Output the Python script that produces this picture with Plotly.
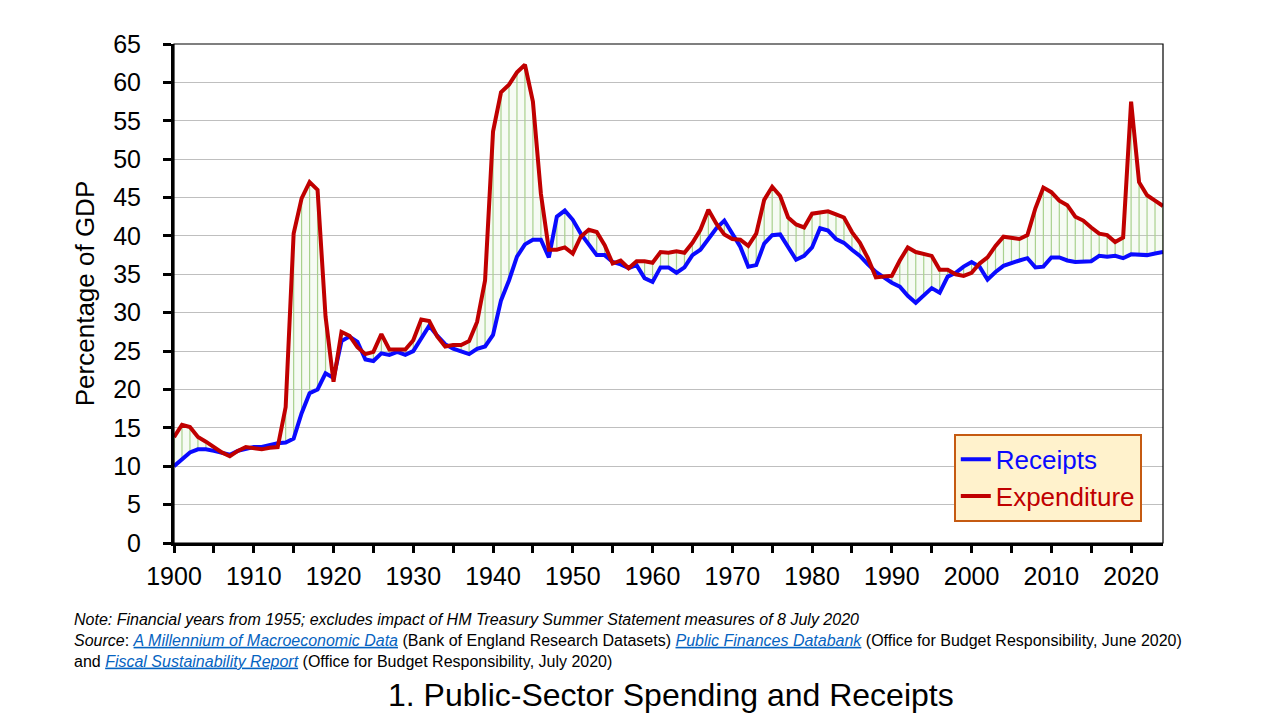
import plotly.graph_objects as go

years = list(range(1900, 2025))

receipts = [
    10.0, 10.9, 11.8, 12.2, 12.2, 12.0, 11.7, 11.5, 12.0, 12.3,   # 1900-1909
    12.5, 12.5, 12.8, 13.0, 13.1, 13.6, 16.9, 19.5, 20.0, 22.1,   # 1910-1919
    21.5, 26.3, 26.9, 26.2, 23.9, 23.7, 24.7, 24.5, 24.9, 24.5,   # 1920-1929
    25.0, 26.6, 28.3, 27.0, 25.9, 25.3, 24.9, 24.6, 25.3, 25.6,   # 1930-1939
    27.1, 31.6, 34.2, 37.3, 38.9, 39.5, 39.5, 37.2, 42.5, 43.3,   # 1940-1949
    42.1, 40.3, 38.9, 37.5, 37.5, 36.6, 36.3, 35.8, 36.2, 34.5,   # 1950-1959
    34.0, 35.9, 35.9, 35.2, 35.9, 37.5, 38.2, 39.7, 41.0, 42.0,   # 1960-1969
    40.3, 38.6, 36.0, 36.2, 39.0, 40.1, 40.2, 38.5, 36.9, 37.4,   # 1970-1979
    38.5, 41.0, 40.7, 39.6, 39.1, 38.2, 37.4, 36.3, 35.3, 34.6,   # 1980-1989
    33.9, 33.4, 32.2, 31.3, 32.2, 33.2, 32.6, 34.7, 35.2, 36.0,   # 1990-1999
    36.6, 36.0, 34.3, 35.3, 36.1, 36.5, 36.8, 37.1, 35.9, 36.0,   # 2000-2009
    37.2, 37.2, 36.8, 36.6, 36.7, 36.7, 37.4, 37.3, 37.4, 37.1,   # 2010-2019
    37.6, 37.5, 37.5, 37.7, 37.9,                                 # 2020-2024
]

expenditure = [
    13.8, 15.4, 15.1, 13.8, 13.2, 12.5, 11.8, 11.3, 12.0, 12.5,   # 1900-1909
    12.3, 12.2, 12.4, 12.5, 17.7, 40.3, 44.9, 47.0, 46.0, 29.5,   # 1910-1919
    21.0, 27.5, 27.0, 25.5, 24.6, 24.9, 27.2, 25.2, 25.2, 25.2,   # 1920-1929
    26.4, 29.1, 28.9, 26.9, 25.6, 25.8, 25.8, 26.3, 28.8, 34.2,   # 1930-1939
    53.6, 58.7, 59.7, 61.3, 62.3, 57.5, 45.5, 38.2, 38.2, 38.5,   # 1940-1949
    37.7, 39.9, 40.8, 40.5, 38.8, 36.4, 36.8, 35.8, 36.7, 36.7,   # 1950-1959
    36.5, 37.9, 37.8, 38.0, 37.8, 39.1, 40.8, 43.4, 41.6, 40.2,   # 1960-1969
    39.6, 39.5, 38.7, 40.3, 44.7, 46.4, 45.2, 42.4, 41.5, 41.1,   # 1970-1979
    42.9, 43.0, 43.2, 42.8, 42.4, 40.5, 39.1, 37.1, 34.6, 34.7,   # 1980-1989
    34.8, 36.8, 38.5, 37.9, 37.7, 37.4, 35.6, 35.6, 35.0, 34.8,   # 1990-1999
    35.2, 36.4, 37.2, 38.7, 39.9, 39.8, 39.6, 40.1, 43.6, 46.3,   # 2000-2009
    45.7, 44.6, 44.0, 42.5, 42.0, 41.1, 40.3, 40.1, 39.2, 39.8,   # 2010-2019
    57.5, 47.0, 45.3, 44.6, 43.9,                                 # 2020-2024
]

y_ticks = list(range(0, 70, 5))
x_ticks = list(range(1900, 2030, 10))

BLUE = "#0A0AFF"
RED = "#C00000"
FONT = "Liberation Sans, Arial, sans-serif"

# drop lines between the two series at each year
drop_x, drop_y = [], []
for yr, r, e in zip(years, receipts, expenditure):
    drop_x += [yr, yr, None]
    drop_y += [r, e, None]

fig = go.Figure()
fig.add_trace(go.Scatter(x=years, y=receipts, mode="lines", line=dict(width=0),
                         showlegend=False, hoverinfo="skip"))
fig.add_trace(go.Scatter(x=years, y=expenditure, mode="lines", line=dict(width=0),
                         fill="tonexty", fillcolor="rgba(200,230,185,0.16)",
                         showlegend=False, hoverinfo="skip"))
fig.add_trace(go.Scatter(x=drop_x, y=drop_y, mode="lines",
                         line=dict(color="#A9D18E", width=1.2),
                         showlegend=False, hoverinfo="skip"))
fig.add_trace(go.Scatter(x=years, y=receipts, mode="lines", legendgroup="r",
                         name=f"<span style='color:{BLUE}'>Receipts</span>",
                         line=dict(color=BLUE, width=4)))
fig.add_trace(go.Scatter(x=years, y=expenditure, mode="lines", legendgroup="e",
                         name=f"<span style='color:{RED}'>Expenditure</span>",
                         line=dict(color=RED, width=4)))

L, R, T, B = 174, 117, 44, 177
PW, PH = 1280 - L - R, 720 - T - B


def px(x):
    return (x - L) / PW


def py(y):
    return (720 - B - y) / PH


fig.update_layout(
    width=1280, height=720,
    margin=dict(l=L, r=R, t=T, b=B),
    paper_bgcolor="white", plot_bgcolor="white",
    font=dict(family=FONT, color="black", size=25),
    showlegend=True,
    legend=dict(x=px(954), y=py(434), xanchor="left", yanchor="top",
                bgcolor="#FFF2CC", bordercolor="#C55A11", borderwidth=1.8,
                font=dict(size=26, family=FONT), traceorder="normal",
                tracegroupgap=6, itemwidth=30),
    xaxis=dict(range=[1900, 2024], tickmode="array", tickvals=x_ticks,
               ticks="outside", ticklen=7, tickwidth=3, tickcolor="black",
               minor=dict(dtick=5, tick0=1900, ticks="outside", ticklen=7,
                          tickwidth=3, tickcolor="black", showgrid=False),
               showgrid=False, zeroline=False, showline=True, linecolor="black",
               linewidth=3, tickfont=dict(size=25), ticklabelstandoff=2),
    yaxis=dict(range=[0, 65], tickmode="array", tickvals=y_ticks,
               ticks="outside", ticklen=8, tickwidth=3, tickcolor="black",
               showgrid=True, gridcolor="#BFBFBF", gridwidth=1,
               zeroline=False, showline=True, linecolor="black", linewidth=3,
               tickfont=dict(size=25), ticklabelstandoff=17,
               title=dict(text="Percentage of GDP", font=dict(size=26), standoff=12)),
)

# thin frame around plot area
fig.add_shape(type="rect", xref="paper", yref="paper", x0=0, x1=1, y0=0, y1=1,
              line=dict(color="black", width=1.2), layer="above")

LINK = "#0563C1"
note = (
    "<i>Note: Financial years from 1955; excludes impact of HM Treasury Summer Statement measures of 8 July 2020</i><br>"
    f"<i>Source</i>: <span style='color:{LINK}'><u><i>A Millennium of Macroeconomic Data</i></u></span>"
    " (Bank of England Research Datasets) "
    f"<span style='color:{LINK}'><u><i>Public Finances Databank</i></u></span>"
    " (Office for Budget Responsibility, June 2020)<br>"
    f"and <span style='color:{LINK}'><u><i>Fiscal Sustainability Report</i></u></span>"
    " (Office for Budget Responsibility, July 2020)"
)
fig.add_annotation(text=note, xref="paper", yref="paper", x=px(72), y=py(609),
                   xanchor="left", yanchor="top", align="left", showarrow=False,
                   font=dict(size=16, family=FONT, color="black"))
fig.add_annotation(text="1. Public-Sector Spending and Receipts", xref="paper", yref="paper",
                   x=px(671), y=py(695), xanchor="center", yanchor="middle",
                   showarrow=False, font=dict(size=32, family=FONT, color="black"))

fig.write_html("out.html")
